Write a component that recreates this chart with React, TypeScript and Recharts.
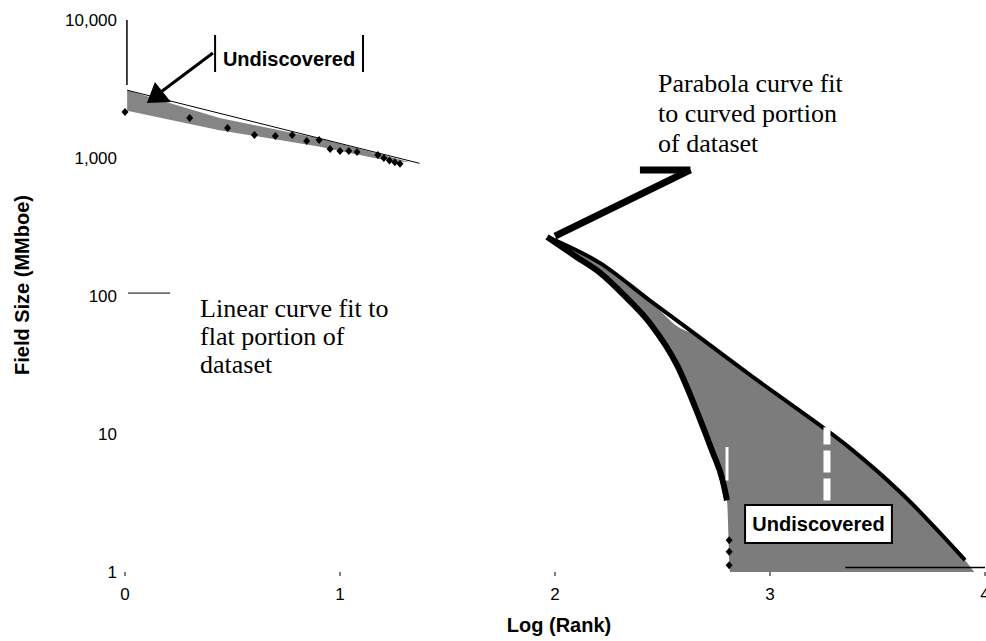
import React from 'react';
import {
  ComposedChart,
  XAxis,
  YAxis,
  Area,
  Line,
  Scatter,
  ReferenceLine,
  ReferenceArea,
  ReferenceDot,
} from 'recharts';

// ---- axis ticks ----
const xTicks = [0, 1, 2, 3, 4];
const yTicks = [1, 10, 100, 1000, 10000];

// ---- flat portion of dataset (log rank, field size MMboe) ----
const flatLogRank = [0, 0.301, 0.477, 0.602, 0.699, 0.778, 0.845, 0.903, 0.954, 1.0, 1.041, 1.079, 1.176, 1.204, 1.23, 1.255, 1.279];
const flatFieldSize = [2150, 1950, 1650, 1470, 1445, 1470, 1330, 1350, 1160, 1125, 1125, 1105, 1050, 1000, 960, 930, 910];

// ---- curved portion of dataset (dense points, drawn as a thick trace) ----
const curveLogRank = [1.963, 2.1, 2.21, 2.33, 2.44, 2.57, 2.67, 2.73, 2.78, 2.8];
const curveFieldSize = [268, 192, 147, 98, 64, 31, 13.3, 7.6, 4.6, 3.3];

// ---- smallest fields at the tail ----
const tailLogRank = [2.81, 2.81, 2.81];
const tailFieldSize = [1.7, 1.4, 1.12];

// ---- linear curve fit to flat portion ----
const linearFitLogRank = [0.01, 1.37];
const linearFitSize = [3100, 915];

// ---- parabola curve fit to curved portion ----
const parabolaFitLogRank = [1.98, 2.21, 2.44, 2.67, 2.907, 3.14, 3.372, 3.605, 3.907];
const parabolaFitSize = [262, 173, 93, 50.5, 26.8, 14.7, 7.9, 3.8, 1.22];

// ---- undiscovered wedge (between linear fit and data) ----
const wedgeLogRank = [0.01, 0.44, 0.9, 1.2, 1.32];
const wedgeLow = [2200, 1590, 1213, 970, 930];
const wedgeHigh = [3100, 1950, 1393, 1050, 935];

// ---- undiscovered region (between data and parabola fit) ----
const undiscLogRank = [1.98, 2.1, 2.21, 2.33, 2.44, 2.57, 2.67, 2.73, 2.78, 2.8, 2.815, 2.907, 3.14, 3.372, 3.605, 3.907, 3.95];
const undiscLow = [262, 192, 147, 98, 64, 31, 13.3, 7.6, 4.6, 3.3, 1, 1, 1, 1, 1, 1, 1];
const undiscHigh = [262, 212, 173, 128, 93, 60, 50.5, 43, 38, 36, 35, 26.8, 14.7, 7.9, 3.8, 1.22, 1];

// ---- annotation texts ----
const parabolaText = ['Parabola curve fit', 'to curved portion', 'of dataset'];
const linearText = ['Linear curve fit to', 'flat portion of', 'dataset'];
const undiscoveredLabel = 'Undiscovered';
const xAxisTitle = 'Log (Rank)';
const yAxisTitle = 'Field Size (MMboe)';

const SANS = '"Liberation Sans", Arial, Helvetica, sans-serif';
const SERIF = '"Liberation Serif", "Times New Roman", serif';

const pts = (xs: number[], ys: number[]) => xs.map((x, i) => ({ x, y: ys[i] }));
const rng = (xs: number[], lo: number[], hi: number[]) =>
  xs.map((x, i) => ({ x, range: [lo[i], hi[i]] }));

const flatData = pts(flatLogRank, flatFieldSize);
const curveData = pts(curveLogRank, curveFieldSize);
const tailData = pts(tailLogRank, tailFieldSize);
const linFitData = pts(linearFitLogRank, linearFitSize);
const parFitData = pts(parabolaFitLogRank, parabolaFitSize);
const wedgeData = rng(wedgeLogRank, wedgeLow, wedgeHigh);
const undiscData = rng(undiscLogRank, undiscLow, undiscHigh);
const arrowHeadData = [{ x: 0.153, y: 2860 }];

const Diamond = (props: any) => {
  const { cx, cy } = props;
  if (cx == null || cy == null) return null;
  return <polygon points={`${cx},${cy - 4} ${cx + 3.5},${cy} ${cx},${cy + 4} ${cx - 3.5},${cy}`} fill="#000" />;
};

const ArrowHead = (props: any) => {
  const { cx, cy } = props;
  if (cx == null || cy == null) return null;
  return <polygon points={`${cx - 3},${cy - 13} ${cx + 13},${cy + 7} ${cx - 11},${cy + 8}`} fill="#000" />;
};

const multiLine = (lines: string[], fontSize: number, lineHeight: number) => (props: any) => {
  const vb = props.viewBox || {};
  const x = (vb.x || 0) + (vb.width || 0) / 2;
  const y = (vb.y || 0) + (vb.height || 0) / 2;
  return (
    <text x={x} y={y} fontFamily={SERIF} fontSize={fontSize} fill="#000">
      {lines.map((l, i) => (
        <tspan key={i} x={x} dy={i === 0 ? 0 : lineHeight}>
          {l}
        </tspan>
      ))}
    </text>
  );
};

const xTitle = (props: any) => {
  const vb = props.viewBox;
  return (
    <text x={vb.x + vb.width / 2 + 4} y={vb.y + 60} textAnchor="middle" fontFamily={SANS} fontWeight={700} fontSize={20} fill="#000">
      {xAxisTitle}
    </text>
  );
};

const yTitle = (props: any) => {
  const vb = props.viewBox;
  const cx = 22;
  const cy = vb.y + vb.height / 2 - 11;
  return (
    <text x={cx} y={cy} transform={`rotate(-90, ${cx}, ${cy})`} textAnchor="middle" dominantBaseline="central" fontFamily={SANS} fontWeight={700} fontSize={20} fill="#000">
      {yAxisTitle}
    </text>
  );
};

export default function App() {
  return (
    <div style={{ position: 'absolute', left: 0, top: 0, background: '#fff' }}>
      <ComposedChart width={986} height={641} margin={{ top: 20, right: 1, bottom: 0, left: 0 }}>
        <XAxis
          dataKey="x"
          type="number"
          domain={[0, 4]}
          ticks={xTicks}
          interval={0}
          axisLine={false}
          tickLine={{ stroke: '#000' }}
          tickSize={4}
          tickMargin={12}
          height={69}
          tick={{ fill: '#000', fontSize: 17, fontFamily: SANS }}
          label={xTitle}
        />
        <YAxis
          type="number"
          scale="log"
          domain={[1, 10000]}
          ticks={yTicks}
          interval={0}
          axisLine={false}
          tickLine={false}
          width={125}
          tick={{ fill: '#000', fontSize: 17, fontFamily: SANS }}
          tickFormatter={(v: number) => v.toLocaleString('en-US')}
          label={yTitle}
        />

        <Area data={wedgeData} dataKey="range" type="linear" fill="#858585" fillOpacity={1} stroke="none" isAnimationActive={false} />
        <Area data={undiscData} dataKey="range" type="monotone" fill="#7c7c7c" fillOpacity={1} stroke="none" isAnimationActive={false} />

        <Line data={linFitData} dataKey="y" type="linear" stroke="#000" strokeWidth={1} dot={false} isAnimationActive={false} />
        <Line data={parFitData} dataKey="y" type="monotone" stroke="#000" strokeWidth={4} dot={false} isAnimationActive={false} />
        <Line data={curveData} dataKey="y" type="monotone" stroke="#000" strokeWidth={6} dot={false} isAnimationActive={false} />

        <Scatter data={flatData} dataKey="y" shape={Diamond} isAnimationActive={false} />
        <Scatter data={tailData} dataKey="y" shape={Diamond} isAnimationActive={false} />

        {/* scan artefacts: white breaks inside the shaded region */}
        <ReferenceLine segment={[{ x: 2.8, y: 4.6 }, { x: 2.8, y: 8.05 }]} stroke="#fff" strokeWidth={3} ifOverflow="visible" />
        <ReferenceLine segment={[{ x: 3.265, y: 3.3 }, { x: 3.265, y: 11.2 }]} stroke="#fff" strokeWidth={7} strokeDasharray="22 6" ifOverflow="visible" />

        {/* partial axis remnants */}
        <ReferenceLine segment={[{ x: 0.009, y: 3380 }, { x: 0.009, y: 10000 }]} stroke="#000" strokeWidth={1.5} ifOverflow="visible" />
        <ReferenceLine segment={[{ x: 3.35, y: 1.08 }, { x: 4, y: 1.08 }]} stroke="#000" strokeWidth={1.5} ifOverflow="visible" />
        <ReferenceLine segment={[{ x: 0.014, y: 105 }, { x: 0.21, y: 105 }]} stroke="#000" strokeWidth={1} ifOverflow="visible" />

        {/* top-left "Undiscovered" callout */}
        <ReferenceLine segment={[{ x: 0.419, y: 4200 }, { x: 0.419, y: 7790 }]} stroke="#000" strokeWidth={2} ifOverflow="visible" />
        <ReferenceLine segment={[{ x: 1.107, y: 4200 }, { x: 1.107, y: 7790 }]} stroke="#000" strokeWidth={2} ifOverflow="visible" />
        <ReferenceLine segment={[{ x: 0.409, y: 5770 }, { x: 0.153, y: 2900 }]} stroke="#000" strokeWidth={3} ifOverflow="visible" />
        <Scatter data={arrowHeadData} dataKey="y" shape={ArrowHead} isAnimationActive={false} />
        <ReferenceArea
          x1={0.419}
          x2={1.107}
          y1={3800}
          y2={7160}
          fill="#fff"
          fillOpacity={0}
          stroke="none"
          ifOverflow="visible"
          label={{ value: undiscoveredLabel, position: 'center', fill: '#000', fontSize: 20, fontWeight: 700, fontFamily: SANS }}
        />

        {/* parabola arrow */}
        <ReferenceLine segment={[{ x: 2.395, y: 819 }, { x: 2.63, y: 819 }]} stroke="#000" strokeWidth={7} ifOverflow="visible" />
        <ReferenceLine segment={[{ x: 2.63, y: 819 }, { x: 2.0, y: 272 }]} stroke="#000" strokeWidth={7} ifOverflow="visible" />

        {/* bottom "Undiscovered" box */}
        <ReferenceArea
          x1={2.884}
          x2={3.567}
          y1={1.62}
          y2={3.06}
          fill="#fff"
          fillOpacity={1}
          stroke="#000"
          strokeWidth={2}
          ifOverflow="visible"
          label={{ value: undiscoveredLabel, position: 'center', fill: '#000', fontSize: 20, fontWeight: 700, fontFamily: SANS }}
        />

        {/* annotation texts */}
        <ReferenceDot x={2.479} y={3006} r={0} stroke="none" fill="none" ifOverflow="visible" label={multiLine(parabolaText, 26, 30)} />
        <ReferenceDot x={0.349} y={70.5} r={0} stroke="none" fill="none" ifOverflow="visible" label={multiLine(linearText, 26, 28)} />
      </ComposedChart>
    </div>
  );
}
